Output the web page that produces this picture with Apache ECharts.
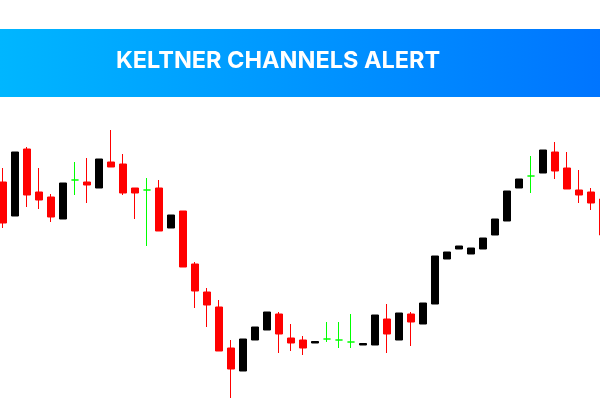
<!DOCTYPE html>
<html>
<head>
<meta charset="utf-8">
<script src="https://cdn.jsdelivr.net/npm/echarts@6/dist/echarts.min.js"></script>
<style>html,body{margin:0;padding:0;background:#fff;}#c{width:600px;height:400px;}</style>
</head>
<body>
<div id="c"></div>
<script>
var title = 'KELTNER CHANNELS ALERT';
var categories = [];
for (var k = 1; k <= 51; k++) categories.push('C' + k);
var opens  = [218,184,251,208,203,181,220,218,212,238,236,212,210,212,172,189,136,108,93,52,29,60,70,86,62,60,57,61,60,58,55,55,81,60,86,76,96,141,151,146,151,165,179,212,224,227,248,232,210,208,201];
var closes = [177,248,205,200,183,217,220,215,241,233,207,207,210,169,185,133,109,95,49,31,61,73,88,66,57,52,58.5,61,60,58,56.5,85,66,87,78,97,144,148,154,152,162,181,209,221,224,250,229,211,205,197,165];
var lows   = [172,184,193,191,178,181,205,197,212,233,205,181,154,169,172,133,92,73,49,2,29,60,70,47,49,45,57,58,52,52,55,55,47,60,54,76,96,141,151,146,151,165,179,212,207,227,221,211,197,190,165];
var highs  = [232,248,253,232,206,217,238,242,241,270,246,212,222,220,185,189,138,112,100,60,61,73,88,88,76,64,58.5,78,78,86,56.5,85,96,87,88,97,144,148,154,152,162,181,209,221,244,250,258,248,230,212,201];

var data = opens.map(function (o, i) {
  var item = { value: [o, closes[i], lows[i], highs[i]] };
  if (o === closes[i]) {
    item.itemStyle = { color: '#00ff00', color0: '#00ff00', borderColor: '#00ff00', borderColor0: '#00ff00', borderColorDoji: '#00ff00' };
  }
  return item;
});

var chart = echarts.init(document.getElementById('c'), null, { renderer: 'canvas' });
chart.setOption({
  animation: false,
  backgroundColor: '#ffffff',
  grid: { left: -3, top: 0, width: 612, height: 400, containLabel: false, outerBoundsMode: 'none' },
  xAxis: { type: 'category', data: categories, boundaryGap: true, show: false },
  yAxis: { type: 'value', min: 0, max: 400, show: false, splitLine: { show: false } },
  series: [{
    type: 'candlestick',
    barWidth: 8,
    clip: false,
    data: data,
    itemStyle: {
      color: '#000000', color0: '#ff0000',
      borderColor: '#000000', borderColor0: '#ff0000',
      borderColorDoji: '#00ff00', borderWidth: 1
    }
  }],
  graphic: [
    {
      type: 'rect', left: 0, top: 29, z: 10,
      shape: { width: 600, height: 68 },
      style: {
        fill: new echarts.graphic.LinearGradient(0, 0, 1, 0, [
          { offset: 0, color: '#00b6ff' },
          { offset: 1, color: '#0075ff' }
        ])
      }
    },
    {
      type: 'text', x: 278, y: 61, z: 11,
      style: {
        text: title, fill: '#ffffff',
        font: 'bold 23.5px Inter',
        textAlign: 'center', textVerticalAlign: 'middle'
      }
    }
  ]
});
</script>
</body>
</html>
